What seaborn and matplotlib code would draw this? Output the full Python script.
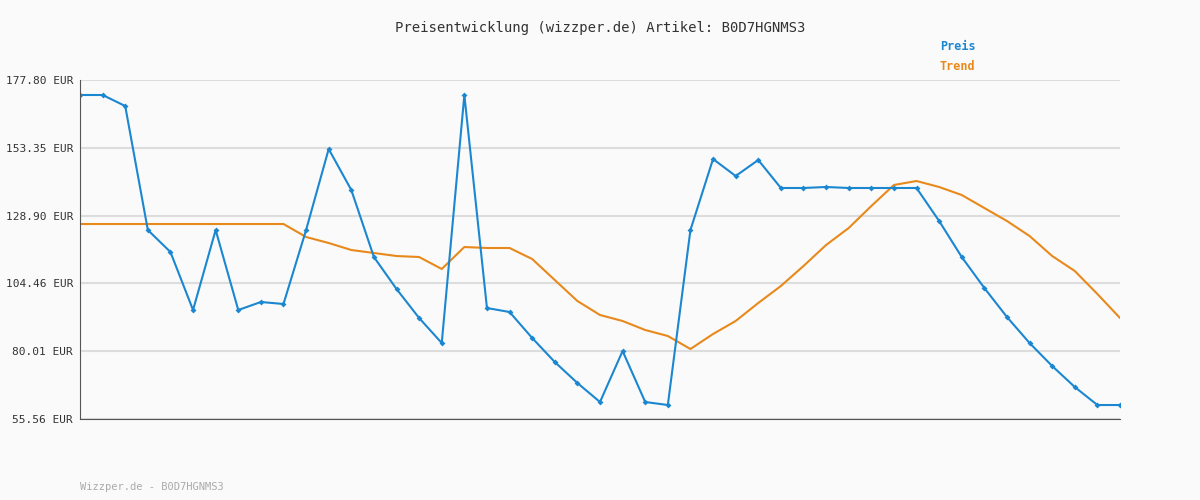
import numpy as np
import matplotlib
matplotlib.use("Agg")
import matplotlib.pyplot as plt
import seaborn as sns
import pandas as pd

# Preis (blue) and Trend (orange)
preis = [172.39, 172.39, 168.42, 123.71, 115.78, 94.86, 123.71, 94.86, 97.75, 97.03,
         123.71, 152.92, 138.13, 113.97, 102.44, 91.98, 82.96, 172.39, 95.58, 94.14,
         84.77, 76.11, 68.54, 61.69, 80.08, 61.69, 60.60, 123.71, 149.31, 143.18,
         148.95, 138.86, 138.86, 139.22, 138.86, 138.86, 138.86, 138.86, 126.96, 113.97,
         102.80, 92.34, 82.96, 74.67, 67.10, 60.60, 60.60]
trend = [125.87] * 10 + [121.19, 119.02, 116.5, 115.42, 114.33, 113.97, 109.65, 117.58,
         117.22, 117.22, 113.25, 105.68, 98.11, 93.06, 90.9, 87.65, 85.49, 80.8, 86.21,
         90.9, 97.39, 103.52, 110.73, 118.3, 124.43, 132.36, 139.94, 141.38, 139.22,
         136.33, 131.64, 126.96, 121.55, 114.33, 108.93, 100.63, 91.98]
yticks = [55.56, 80.01, 104.46, 128.90, 153.35, 177.80]

df = pd.DataFrame({"idx": range(len(preis)), "Preis": preis, "Trend": trend})

sns.set_style("white")
plt.rcParams["font.family"] = ["DejaVu Sans Mono"]
fig = plt.figure(figsize=(12, 5), dpi=100, facecolor="#fafafa")
ax = fig.add_axes([80 / 1200, 81 / 500, 1040 / 1200, 339 / 500])
ax.set_facecolor("#fafafa")

sns.lineplot(data=df, x="idx", y="Trend", color="#e8891c", lw=1.5, ax=ax)
sns.lineplot(data=df, x="idx", y="Preis", color="#1b87d0", lw=1.5, marker="D",
             markersize=3, markeredgewidth=0, ax=ax)

ax.set_xlim(0, len(preis) - 1)
ax.set_ylim(55.56, 177.80)
ax.set_yticks(yticks)
ax.set_yticklabels([f"{v:.2f} EUR" for v in yticks], fontsize=8, color="#333333")
ax.set_xticks([])
ax.set_xlabel("")
ax.set_ylabel("")
ax.yaxis.grid(True, color="#dddddd", lw=1.5)
ax.tick_params(axis="y", length=3, pad=2, color="#555555")
for s in ["top", "right"]:
    ax.spines[s].set_visible(False)
for s in ["left", "bottom"]:
    ax.spines[s].set_color("#555555")

fig.text(0.5, 1 - 28 / 500, "Preisentwicklung (wizzper.de) Artikel: B0D7HGNMS3",
         ha="center", va="center", fontsize=10, color="#333333")
fig.text(940 / 1200, 1 - 47 / 500, "Preis", color="#1b87d0", fontsize=8.5,
         fontweight="bold", va="center")
fig.text(940 / 1200, 1 - 67 / 500, "Trend", color="#e8891c", fontsize=8.5,
         fontweight="bold", va="center")
fig.text(80 / 1200, 1 - 487 / 500, "Wizzper.de - B0D7HGNMS3", color="#aaaaaa",
         fontsize=7.5, va="center")

fig.savefig("out.png", dpi=100, facecolor=fig.get_facecolor())
